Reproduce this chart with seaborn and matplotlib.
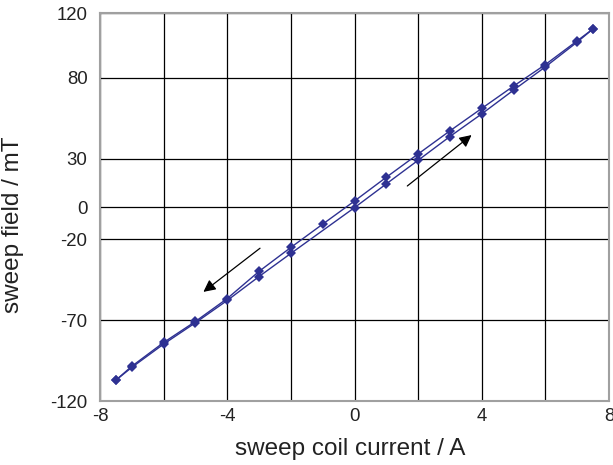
import matplotlib
matplotlib.use("Agg")
import matplotlib.pyplot as plt
import seaborn as sns
import pandas as pd

# Sweep coil calibration: field vs. coil current, down-sweep and up-sweep
current_down = [7.5, 7, 6, 5, 4, 3, 2, 1, 0, -1, -2, -3, -4, -5, -6, -7, -7.5]
field_down = [110.2, 102.8, 88.1, 74.8, 61.0, 47.1, 32.8, 18.4, 3.7, -10.6,
              -25.0, -39.8, -56.6, -70.8, -83.8, -98.5, -107.1]
current_up = [-7.5, -7, -6, -5, -4, -3, -2, 0, 1, 2, 3, 4, 5, 6, 7, 7.5]
field_up = [-107.1, -99.2, -84.8, -71.6, -57.8, -43.0, -28.7, -0.4, 14.3,
            28.9, 43.6, 57.6, 72.3, 86.7, 102.0, 110.2]

y_ticks = [-120, -70, -20, 0, 30, 80, 120]
x_ticks = [-8, -6, -4, -2, 0, 2, 4, 6, 8]
x_tick_labels = ["-8", "", "-4", "", "0", "", "4", "", "8"]

df = pd.concat([
    pd.DataFrame({"current": current_down, "field": field_down, "sweep": "down"}),
    pd.DataFrame({"current": current_up, "field": field_up, "sweep": "up"}),
], ignore_index=True)

sns.set_theme(style="white")
plt.rcParams["font.family"] = ["Liberation Sans", "DejaVu Sans"]

fig = plt.figure(figsize=(6.13, 4.65), dpi=100)
ax = fig.add_axes([100 / 613, 1 - 401 / 465, 509 / 613, 388 / 465])

line_color = "#2e3192"
sns.lineplot(data=df, x="current", y="field", hue="sweep", units="sweep",
             estimator=None, sort=False, palette=[line_color, line_color],
             marker="D", markersize=4.8, markeredgewidth=0, linewidth=1.0,
             legend=False, ax=ax)

ax.set_xlim(-8, 8)
ax.set_ylim(-120, 120)
ax.set_xticks(x_ticks)
ax.set_xticklabels(x_tick_labels)
ax.set_yticks(y_ticks)
ax.set_yticklabels([str(v) for v in y_ticks])
ax.tick_params(axis="both", which="major", length=0, labelsize=13.4,
               colors="#222222")
ax.tick_params(axis="x", pad=5)
ax.tick_params(axis="y", pad=9)

# short outward tick where the zero line meets the frame
ax.set_yticks([0], minor=True)
ax.tick_params(axis="y", which="minor", left=True, length=5, width=1,
               color="black", direction="out")

ax.grid(True, which="major", color="black", linewidth=0.9)
ax.set_axisbelow(True)
for spine in ax.spines.values():
    spine.set_color("#a0a0a0")
    spine.set_linewidth(1.5)

ax.set_xlabel("sweep coil current / A", fontsize=17.5, color="#222222")
ax.set_ylabel("sweep field / mT", fontsize=17.5, color="#222222")
ax.xaxis.set_label_coords(0.492, -0.095)
ax.yaxis.set_label_coords(-0.15, 0.455)

# Sweep direction arrows
arrow_style = dict(arrowstyle="-|>", color="black", lw=0.9,
                   mutation_scale=18, shrinkA=0, shrinkB=0)
ax.annotate("", xy=(3.68, 44.5), xytext=(1.66, 13.0), arrowprops=arrow_style)
ax.annotate("", xy=(-4.75, -52.5), xytext=(-2.97, -25.5), arrowprops=arrow_style)

fig.savefig("out.png", dpi=100)
